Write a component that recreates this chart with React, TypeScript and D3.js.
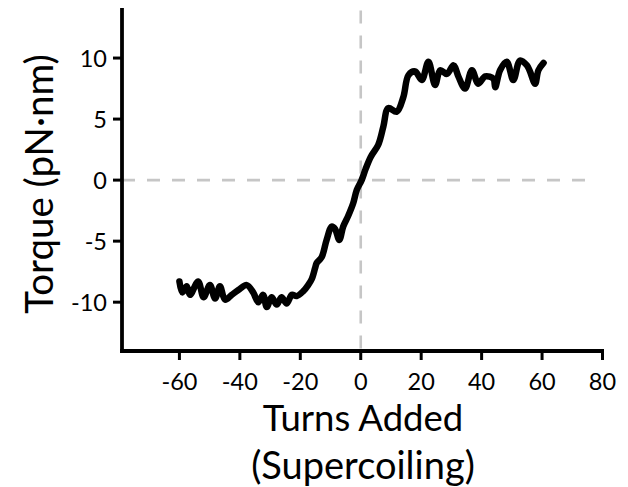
import React from "react";
import * as d3 from "d3";

// Torque response of DNA as turns are added (supercoiling)
const turns = [
  -60, -59, -57.6, -56.5, -53.8, -52, -49.9, -48.2, -46.6, -44.9, -42.7, -40.5,
  -37.7, -35.6, -33.9, -32.3, -31.1, -29.5, -27.8, -26.2, -24.5, -22.8, -21.2,
  -19, -17.4, -16.2, -15.1, -14.6, -12.9, -11.3, -9.6, -8.5, -7.1, -5.8, -4.1,
  -2.5, -1.3, 0.3, 1.6, 3.3, 5.8, 7.5, 9.1, 11.9, 14.1, 15.8, 18, 20.2, 22.4,
  24.6, 26.3, 28.5, 30.7, 32.3, 34.5, 36.8, 38.9, 41.2, 43.9, 44.5, 46.1, 48.3,
  50.5, 52.7, 55, 56, 57.7, 58.8, 60.5,
];
const torque = [
  -8.3, -9.2, -8.7, -9.4, -8.3, -9.6, -8.6, -9.7, -8.7, -9.8, -9.4, -9.0, -8.6,
  -9.2, -10.0, -9.4, -10.4, -9.6, -10.2, -9.6, -10.1, -9.4, -9.5, -9.1, -8.6,
  -8.1, -7.2, -6.8, -6.3, -4.9, -3.8, -4.0, -4.9, -3.8, -2.9, -1.9, -0.8, 0,
  0.9, 1.9, 2.9, 4.4, 5.9, 5.6, 6.8, 8.6, 8.9, 8.2, 9.7, 7.8, 9.0, 8.7, 9.4,
  8.5, 7.5, 9.0, 7.9, 8.5, 8.3, 7.6, 9.0, 9.7, 8.2, 9.8, 9.4, 8.9, 7.9, 9.0,
  9.6,
];

const xTicks = [-60, -40, -20, 0, 20, 40, 60, 80];
const yTicks = [-10, -5, 0, 5, 10];
const xTitle = ["Turns Added", "(Supercoiling)"];
const yTitle = "Torque (pN·nm)";

const W = 628;
const H = 487;
const FONT = "Lato, 'Open Sans', 'DejaVu Sans', sans-serif";

export default function App() {
  const x = d3.scaleLinear().domain([-79, 80]).range([122, 602.5]);
  const y = d3.scaleLinear().domain([-14, 14.1]).range([351, 8]);

  const points: [number, number][] = turns.map((t, i) => [t, torque[i]]);
  const line = d3
    .line<[number, number]>()
    .x((d) => x(d[0]))
    .y((d) => y(d[1]))
    .curve(d3.curveCatmullRom.alpha(0.5));

  const [x0] = x.range();
  const [yBottom, yTop] = y.range();

  return (
    <svg
      width={W}
      height={H}
      style={{ position: "absolute", left: 0, top: 0, background: "#fff" }}
      fontFamily={FONT}
    >
      {/* zero reference lines */}
      <line
        x1={x0}
        x2={x(78)}
        y1={y(0)}
        y2={y(0)}
        stroke="#c6c6c6"
        strokeWidth={2.6}
        strokeDasharray="13 12"
      />
      <line
        x1={x(0)}
        x2={x(0)}
        y1={y(13.9)}
        y2={yBottom}
        stroke="#c6c6c6"
        strokeWidth={2.6}
        strokeDasharray="13 12"
      />

      {/* data trace */}
      <path
        d={line(points) ?? ""}
        fill="none"
        stroke="#000"
        strokeWidth={6.5}
        strokeLinejoin="round"
        strokeLinecap="round"
      />

      {/* axes */}
      <line x1={x0} x2={x0} y1={yTop} y2={yBottom + 1.9} stroke="#000" strokeWidth={3.8} />
      <line x1={x0 - 1.9} x2={x(80) + 1.5} y1={yBottom} y2={yBottom} stroke="#000" strokeWidth={3.8} />

      {yTicks.map((t) => (
        <g key={"y" + t}>
          <line x1={x0 - 9} x2={x0} y1={y(t)} y2={y(t)} stroke="#000" strokeWidth={3} />
          <text
            x={x0 - 15}
            y={y(t) + 8.5}
            textAnchor="end"
            fontSize={23.5}
            fill="#000"
          >
            {t}
          </text>
        </g>
      ))}

      {xTicks.map((t) => (
        <g key={"x" + t}>
          <line x1={x(t)} x2={x(t)} y1={yBottom} y2={yBottom + 9} stroke="#000" strokeWidth={3} />
          <text x={x(t)} y={389.5} textAnchor="middle" fontSize={23.5} fill="#000">
            {t}
          </text>
        </g>
      ))}

      {/* axis titles */}
      <text x={363} y={431} textAnchor="middle" fontSize={36.5} fill="#000">
        {xTitle[0]}
      </text>
      <text x={363} y={479} textAnchor="middle" fontSize={38} fill="#000">
        {xTitle[1]}
      </text>
      <text
        transform={`translate(53,184) rotate(-90)`}
        textAnchor="middle"
        fontSize={38.5}
        fill="#000"
      >
        {yTitle}
      </text>
    </svg>
  );
}
